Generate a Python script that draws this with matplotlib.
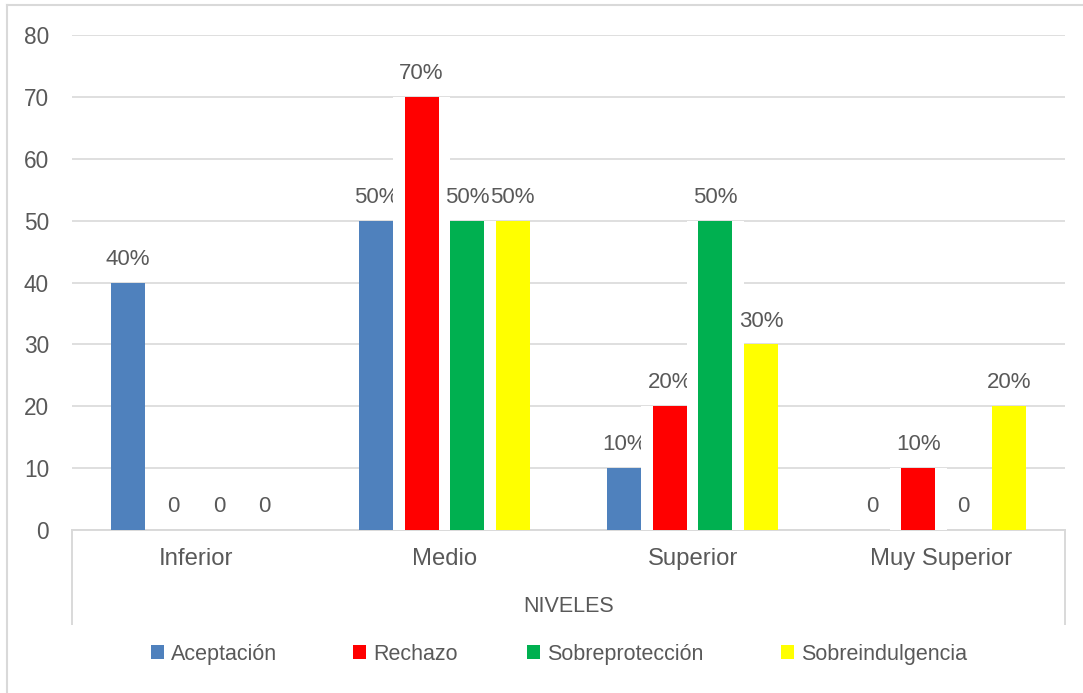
import numpy as np
import matplotlib
matplotlib.use("Agg")
import matplotlib.pyplot as plt
from matplotlib.patches import Patch
from matplotlib.lines import Line2D

# ---- data ---------------------------------------------------------------
niveles = ["Inferior", "Medio", "Superior", "Muy Superior"]
series = ["Aceptación", "Rechazo", "Sobreprotección", "Sobreindulgencia"]
aceptacion = [40, 50, 10, 0]
rechazo = [0, 70, 20, 10]
sobreproteccion = [0, 50, 50, 0]
sobreindulgencia = [0, 50, 30, 20]
yticks = [0, 10, 20, 30, 40, 50, 60, 70, 80]

values = [aceptacion, rechazo, sobreproteccion, sobreindulgencia]
colors = ["#4F81BD", "#FF0000", "#00B050", "#FFFF00"]
halo = [False, True, True, False]   # red/green bars carry a wide white outline

TXT = "#595959"
GRID = "#D9D9D9"
plt.rcParams["font.family"] = ["Liberation Sans", "DejaVu Sans"]

W, H = 1083, 693
fig = plt.figure(figsize=(W / 100, H / 100), dpi=100)
ax = fig.add_axes([72 / W, 1 - 530 / H, (1065 - 72) / W, (530 - 35) / H])

x = np.arange(len(niveles))
pitch = 0.1833
fill_w = 0.137
gap = pitch - fill_w

for i, (name, vals, col) in enumerate(zip(series, values, colors)):
    pos = x + (i - 1.5) * pitch
    z = 2 + i * 3
    if halo[i]:
        ax.bar(pos, vals, width=fill_w + 2 * gap, color="white", zorder=z)
    ax.bar(pos, vals, width=fill_w, color=col, zorder=z + 1, label=name)
    for p, v in zip(pos, vals):
        ax.annotate(f"{v}%" if v else "0", (p, v), xytext=(0, 12.8),
                    textcoords="offset points", ha="center", va="baseline",
                    fontsize=16, color=TXT, zorder=z + 2)

ax.set_xlim(-0.5, 3.5)
ax.set_ylim(0, 80)
ax.set_yticks(yticks)
ax.set_xticks(x, niveles)
ax.yaxis.grid(True, color=GRID, lw=1.2, zorder=0)
ax.set_axisbelow(True)
ax.tick_params(axis="y", length=0, pad=16.5, labelsize=16.3, labelcolor=TXT)
ax.tick_params(axis="x", length=0, pad=13, labelsize=17.2, labelcolor=TXT)
for s in ["left", "right", "top"]:
    ax.spines[s].set_visible(False)
ax.spines["bottom"].set_color(GRID)
ax.spines["bottom"].set_linewidth(1.4)

# multi-level category axis box sides
for xp in (72, 1065):
    fig.add_artist(Line2D([xp / W, xp / W], [1 - 530 / H, 1 - 624 / H],
                          color=GRID, lw=1.4))
fig.text(569 / W, 1 - 606 / H, "NIVELES", ha="center", va="center",
         fontsize=15.5, color=TXT)

# legend: one entry per box, bottom-anchored so the labels share a baseline
leg_x = [151, 353, 527, 781]
for name, col, lx in zip(series, colors, leg_x):
    fig.legend([Patch(facecolor=col, edgecolor="none")], [name],
               loc="lower left", bbox_to_anchor=(lx / W, 1 - 665 / H),
               frameon=False, fontsize=15.5, labelcolor=TXT,
               handlelength=0.62, handleheight=0.62, handletextpad=0.3,
               borderpad=0, borderaxespad=0)

# chart border (only top and left edges fall inside the canvas)
fig.add_artist(Line2D([7 / W, 7 / W], [0, 1 - 5 / H], color=GRID, lw=1.5))
fig.add_artist(Line2D([7 / W, 1], [1 - 5 / H, 1 - 5 / H], color=GRID, lw=1.5))

fig.savefig("out.png", dpi=100)
